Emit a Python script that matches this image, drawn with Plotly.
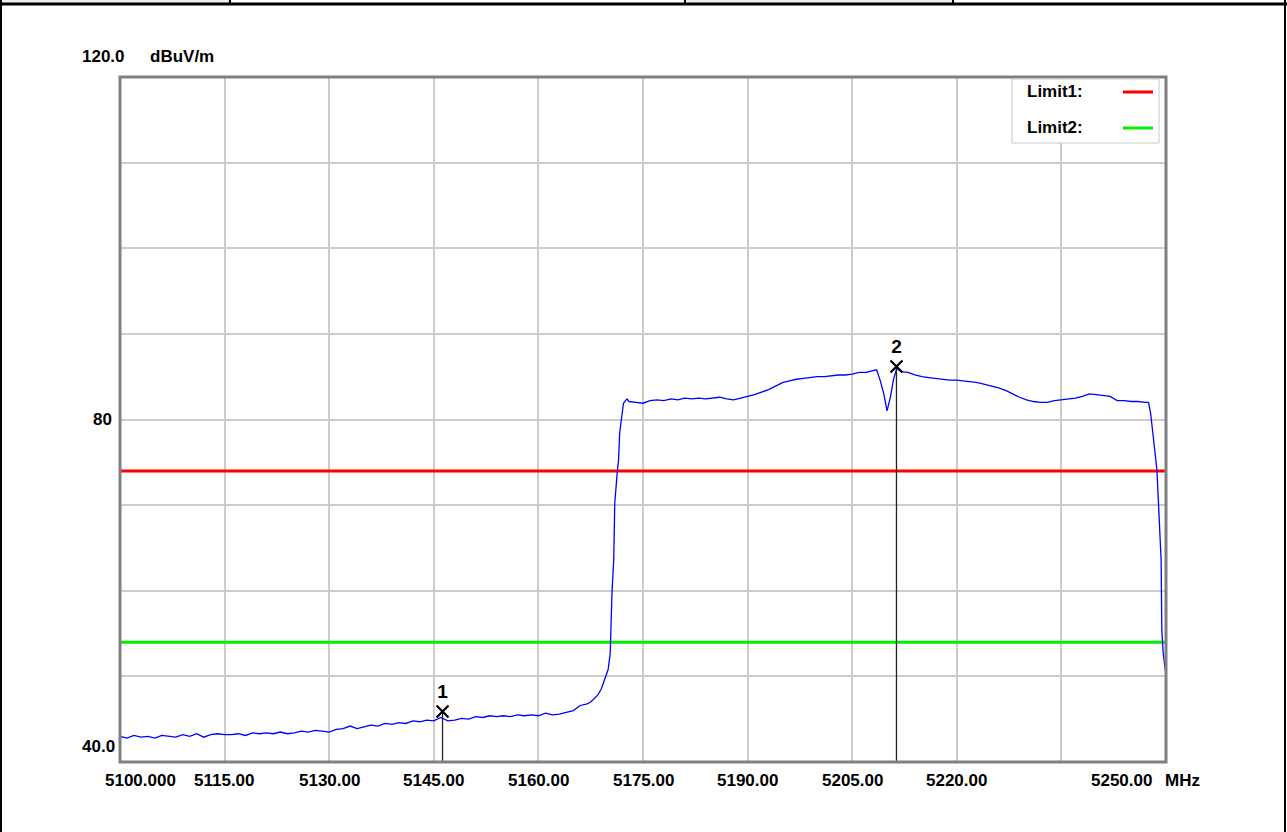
import plotly.graph_objects as go

# ---------------- data ----------------
FREQ_MHZ = [
    5100, 5101, 5102, 5103, 5104, 5105, 5106, 5107, 5108, 5109,
    5110, 5111, 5112, 5113, 5114, 5115, 5116, 5117, 5118, 5119,
    5120, 5121, 5122, 5123, 5124, 5125, 5126, 5127, 5128, 5129,
    5130, 5131, 5132, 5133, 5134, 5135, 5136, 5137, 5138, 5139,
    5140, 5141, 5142, 5143, 5144, 5145, 5146, 5147, 5148, 5149,
    5150, 5151, 5152, 5153, 5154, 5155, 5156, 5157, 5158, 5159,
    5160, 5161, 5162, 5163, 5164, 5165, 5166, 5167, 5167.5, 5168.5,
    5169.0, 5169.5, 5170.0, 5170.3, 5170.4, 5170.55, 5170.8, 5170.95, 5171.3, 5171.5,
    5171.65, 5171.9, 5172.2, 5172.7, 5173, 5174, 5175, 5176, 5177, 5178,
    5179, 5180, 5181, 5182, 5183, 5184, 5185, 5186, 5187, 5188,
    5189, 5190, 5191, 5192, 5193, 5194, 5195, 5196, 5197, 5198,
    5199, 5200, 5201, 5202, 5203, 5204, 5205, 5206, 5207, 5208,
    5208.5, 5209.0, 5209.5, 5210.0, 5210.5, 5210.9, 5211.4, 5212, 5213, 5214,
    5215, 5216, 5217, 5218, 5219, 5220, 5221, 5222, 5223, 5224,
    5225, 5226, 5227, 5228, 5229, 5230, 5231, 5232, 5233, 5234,
    5235, 5236, 5237, 5238, 5239, 5240, 5241, 5242, 5243, 5244,
    5245, 5246, 5247, 5247.5, 5247.8, 5248.1, 5248.4, 5248.7, 5248.9, 5249.1,
    5249.3, 5249.4, 5249.6, 5249.9,
]
LEVEL_DBUV = [
    43.0, 42.8, 43.1, 42.9, 43.0, 42.8, 43.1, 43.0, 42.9, 43.2,
    43.0, 43.3, 42.9, 43.2, 43.3, 43.2, 43.2, 43.3, 43.1, 43.4,
    43.3, 43.4, 43.3, 43.5, 43.3, 43.4, 43.6, 43.5, 43.7, 43.6,
    43.5, 43.8, 43.9, 44.2, 43.9, 44.1, 44.3, 44.2, 44.5, 44.4,
    44.6, 44.5, 44.8, 44.7, 44.9, 44.8, 45.2, 44.8, 44.9, 45.1,
    45.0, 45.3, 45.2, 45.4, 45.3, 45.4, 45.3, 45.5, 45.4, 45.5,
    45.4, 45.7, 45.5, 45.6, 45.8, 46.0, 46.6, 46.8, 47.0, 47.8,
    48.5, 49.6, 50.8, 52.7, 55.8, 59.7, 63.6, 70.2, 73.8, 75.3,
    78.4, 80.3, 81.9, 82.4, 82.1, 82.0, 81.9, 82.2, 82.3, 82.2,
    82.4, 82.3, 82.5, 82.4, 82.5, 82.4, 82.5, 82.6, 82.4, 82.3,
    82.5, 82.7, 82.9, 83.2, 83.5, 83.9, 84.3, 84.5, 84.7, 84.8,
    84.9, 85.0, 85.0, 85.1, 85.2, 85.2, 85.3, 85.5, 85.5, 85.7,
    85.8, 84.6, 83.1, 81.0, 82.7, 84.6, 86.0, 85.6, 85.5, 85.2,
    85.0, 84.9, 84.8, 84.7, 84.6, 84.6, 84.5, 84.4, 84.3, 84.1,
    83.9, 83.7, 83.4, 83.0, 82.6, 82.3, 82.1, 82.0, 82.0, 82.2,
    82.3, 82.4, 82.5, 82.7, 83.0, 82.9, 82.8, 82.7, 82.2, 82.2,
    82.1, 82.1, 82.0, 82.0, 80.7, 78.4, 76.4, 74.1, 70.6, 67.1,
    63.6, 55.4, 52.7, 50.7,
]
LIMIT1 = 74.0
LIMIT2 = 54.0
MARKER_NAMES = ["1", "2"]
MARKER_FREQ = [5146.25, 5211.35]
MARKER_LEVEL = [45.9, 86.2]
X_RANGE = [5100.0, 5250.0]
Y_RANGE = [40.0, 120.0]
X_TICKS = [5115, 5130, 5145, 5160, 5175, 5190, 5205, 5220]
X_TICK_TEXT = ["5115.00", "5130.00", "5145.00", "5160.00", "5175.00", "5190.00", "5205.00", "5220.00"]
LEGEND_NAMES = ["Limit1:", "Limit2:"]

FONT = "Liberation Sans, Arial, sans-serif"
W, H = 1287, 832
L, R, T, B = 120, 121, 77, 70
PW, PH = W - L - R, H - T - B


def px_x(px):
    return (px - L) / PW


def px_y(py):
    return 1 - (py - T) / PH


fig = go.Figure()

# limit lines
fig.add_trace(go.Scatter(x=X_RANGE, y=[LIMIT1, LIMIT1], mode="lines",
                         line=dict(color="#ff0000", width=3), hoverinfo="skip"))
fig.add_trace(go.Scatter(x=X_RANGE, y=[LIMIT2, LIMIT2], mode="lines",
                         line=dict(color="#00ee00", width=3), hoverinfo="skip"))

# measured trace
fig.add_trace(go.Scatter(x=FREQ_MHZ, y=LEVEL_DBUV, mode="lines",
                         line=dict(color="#0000ff", width=1.3)))

# marker drop lines
for mf, ml in zip(MARKER_FREQ, MARKER_LEVEL):
    fig.add_trace(go.Scatter(x=[mf, mf], y=[Y_RANGE[0], ml], mode="lines",
                             line=dict(color="#222222", width=1.3), hoverinfo="skip"))

# markers
fig.add_trace(go.Scatter(x=MARKER_FREQ, y=MARKER_LEVEL, mode="markers+text",
                         text=MARKER_NAMES, textposition="top center",
                         textfont=dict(family=FONT, size=19, color="black"),
                         marker=dict(symbol="x-thin", size=12,
                                     line=dict(color="black", width=2.2))))

ann = []
# x tick labels
for v, t in zip(X_TICKS, X_TICK_TEXT):
    ann.append(dict(x=v, y=Y_RANGE[0], xref="x", yref="y", text=t, showarrow=False,
                    xanchor="center", yanchor="middle", yshift=-18))
ann.append(dict(x=X_RANGE[0], y=Y_RANGE[0], xref="x", yref="y", text="5100.000", showarrow=False,
                xanchor="left", yanchor="middle", yshift=-18, xshift=-17))
ann.append(dict(x=X_RANGE[1], y=Y_RANGE[0], xref="x", yref="y", text="5250.00", showarrow=False,
                xanchor="right", yanchor="middle", yshift=-18, xshift=-12))
ann.append(dict(x=X_RANGE[1], y=Y_RANGE[0], xref="x", yref="y", text="MHz", showarrow=False,
                xanchor="left", yanchor="middle", yshift=-18, xshift=-3))
# y labels
ann.append(dict(x=px_x(127), y=px_y(56), xref="paper", yref="paper", text="120.0", showarrow=False,
                xanchor="right", yanchor="middle"))
ann.append(dict(x=px_x(148), y=px_y(56), xref="paper", yref="paper", text="dBuV/m", showarrow=False,
                xanchor="left", yanchor="middle"))
ann.append(dict(x=px_x(114), y=80, xref="paper", yref="y", text="80", showarrow=False,
                xanchor="right", yanchor="middle"))
ann.append(dict(x=px_x(117), y=Y_RANGE[0], xref="paper", yref="y", text="40.0", showarrow=False,
                xanchor="right", yanchor="middle", yshift=16))
# legend texts
ann.append(dict(x=px_x(1025), y=px_y(92), xref="paper", yref="paper", text=LEGEND_NAMES[0],
                showarrow=False, xanchor="left", yanchor="middle"))
ann.append(dict(x=px_x(1025), y=px_y(127), xref="paper", yref="paper", text=LEGEND_NAMES[1],
                showarrow=False, xanchor="left", yanchor="middle"))

shapes = [
    # plot frame
    dict(type="rect", xref="paper", yref="paper", x0=0, x1=1, y0=0, y1=1,
         line=dict(color="#808080", width=3)),
    # legend box
    dict(type="rect", xref="paper", yref="paper", x0=px_x(1012), x1=px_x(1159),
         y0=px_y(143), y1=px_y(79), line=dict(color="#c8c8c8", width=1), fillcolor="white"),
    dict(type="line", xref="paper", yref="paper", x0=px_x(1123), x1=px_x(1153),
         y0=px_y(92), y1=px_y(92), line=dict(color="#ff0000", width=3)),
    dict(type="line", xref="paper", yref="paper", x0=px_x(1123), x1=px_x(1153),
         y0=px_y(128), y1=px_y(128), line=dict(color="#00ee00", width=3)),
    # outer page frame / header table
    dict(type="rect", xref="paper", yref="paper", x0=px_x(0), x1=px_x(230),
         y0=px_y(3), y1=px_y(0), line=dict(width=0), fillcolor="#eeeeee"),
    dict(type="rect", xref="paper", yref="paper", x0=px_x(685), x1=px_x(953),
         y0=px_y(3), y1=px_y(0), line=dict(width=0), fillcolor="#eeeeee"),
    dict(type="line", xref="paper", yref="paper", x0=px_x(0), x1=px_x(1287),
         y0=px_y(4), y1=px_y(4), line=dict(color="black", width=3)),
    dict(type="line", xref="paper", yref="paper", x0=px_x(1), x1=px_x(1),
         y0=px_y(0), y1=px_y(832), line=dict(color="black", width=2)),
    dict(type="line", xref="paper", yref="paper", x0=px_x(1285), x1=px_x(1285),
         y0=px_y(0), y1=px_y(832), line=dict(color="black", width=2)),
    dict(type="line", xref="paper", yref="paper", x0=px_x(230), x1=px_x(230),
         y0=px_y(0), y1=px_y(4), line=dict(color="black", width=2)),
    dict(type="line", xref="paper", yref="paper", x0=px_x(685), x1=px_x(685),
         y0=px_y(0), y1=px_y(4), line=dict(color="black", width=2)),
    dict(type="line", xref="paper", yref="paper", x0=px_x(953), x1=px_x(953),
         y0=px_y(0), y1=px_y(4), line=dict(color="black", width=2)),
]

fig.update_layout(
    width=W, height=H, autosize=False,
    margin=dict(l=L, r=R, t=T, b=B, pad=0),
    paper_bgcolor="white", plot_bgcolor="white",
    showlegend=False,
    font=dict(family=FONT, size=17, color="black", weight="bold"),
    annotations=ann, shapes=shapes,
    xaxis=dict(range=X_RANGE, tick0=X_RANGE[0], dtick=15, showgrid=True,
               gridcolor="#cccccc", gridwidth=1.5, showticklabels=False, ticks="",
               zeroline=False, showline=False, fixedrange=True),
    yaxis=dict(range=Y_RANGE, tick0=Y_RANGE[0], dtick=10, showgrid=True,
               gridcolor="#cccccc", gridwidth=1.5, showticklabels=False, ticks="",
               zeroline=False, showline=False, fixedrange=True),
)

fig.write_html("out.html", config={"displayModeBar": False},
               post_script="document.body.style.margin='0px';document.body.style.overflow='hidden';")
